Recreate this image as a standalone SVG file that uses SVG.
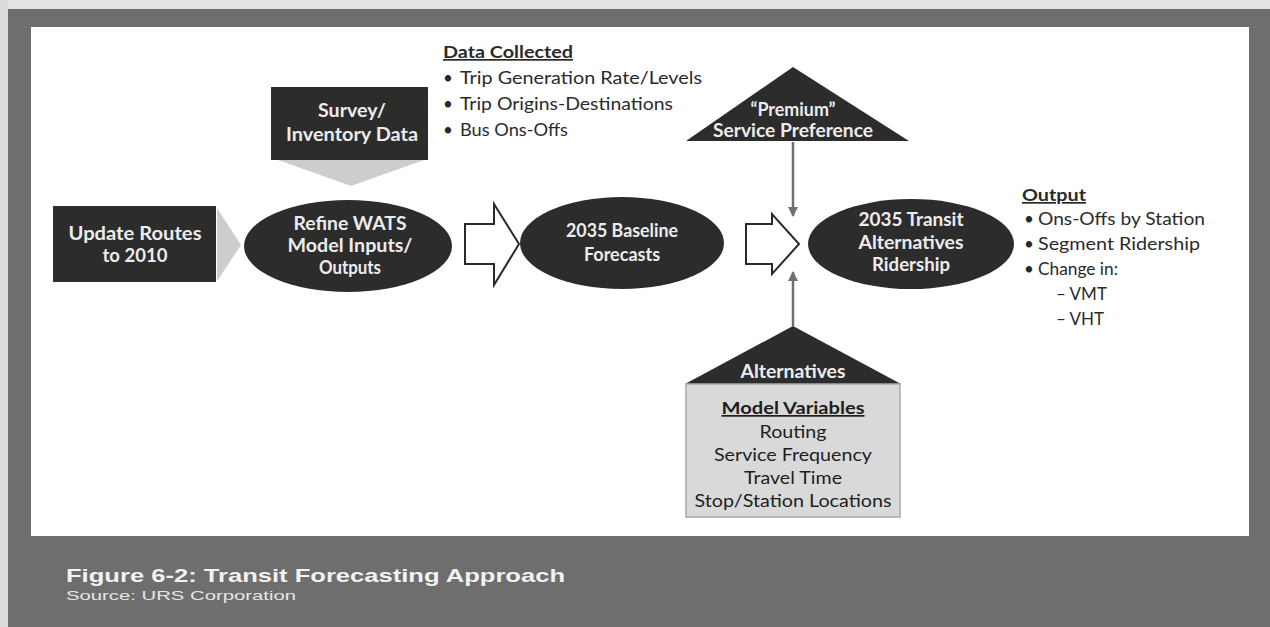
<svg xmlns="http://www.w3.org/2000/svg" width="1270" height="627" viewBox="0 0 1270 627">
<defs>
<style>
.frame{fill:#6e6e6e}
.panel{fill:#ffffff}
.node{fill:#2c2c2c}
.nt{font-family:Lato,"Open Sans","Liberation Sans",sans-serif;font-weight:bold;font-size:18px;fill:#ececec;text-anchor:middle}
.lt{font-family:Lato,"Open Sans","Liberation Sans",sans-serif;font-size:17px;fill:#2a2a2a}
.lh{font-family:Lato,"Open Sans","Liberation Sans",sans-serif;font-size:17px;font-weight:bold;fill:#2a2a2a;text-decoration:underline}
.bt{font-family:Lato,"Open Sans","Liberation Sans",sans-serif;font-size:17px;fill:#1e1e1e;text-anchor:middle}
.cap{font-family:"Liberation Sans",Arial,sans-serif;font-weight:bold;font-size:19px;fill:#f2f2f2}
.src{font-family:"Liberation Sans",Arial,sans-serif;font-size:13.5px;fill:#e6e6e6}
.hollow{fill:#ffffff;stroke:#2a2a2a;stroke-width:2;stroke-linejoin:miter}
.chev{fill:#cdcdcd}
.conn{stroke:#707070;stroke-width:2.5;fill:none}
</style>
<marker id="ah" viewBox="0 0 10 10" refX="9" refY="5" markerWidth="4" markerHeight="4" orient="auto-start-reverse">
<path d="M0,0 L10,5 L0,10 Z" fill="#707070"/>
</marker>
</defs>

<g id="background">
<rect class="frame" x="0" y="0" width="1270" height="627"/>
<rect x="0" y="0" width="1270" height="9" fill="#e4e4e4"/>
<rect x="0" y="0" width="8" height="627" fill="#dcdcdc"/>
<rect class="panel" x="31" y="27" width="1218" height="509"/>
</g>

<g id="caption">
<text class="cap" x="66" y="582" textLength="499" lengthAdjust="spacingAndGlyphs">Figure 6-2: Transit Forecasting Approach</text>
<text class="src" x="66" y="600" textLength="230" lengthAdjust="spacingAndGlyphs">Source: URS Corporation</text>
</g>

<g id="connectors">
<polygon class="chev" points="217,208 241,245 217,281"/>
<polygon class="chev" points="278,160 424,160 351,186"/>
<polygon class="hollow" points="465,224 494,224 494,204 519,244 494,285 494,264 465,264"/>
<polygon class="hollow" points="746,224 772,224 772,214 799,244 772,274 772,264 746,264"/>
<line class="conn" x1="793" y1="142" x2="793" y2="216" marker-end="url(#ah)"/>
<line class="conn" x1="793" y1="326" x2="793" y2="272" marker-end="url(#ah)"/>
</g>

<g id="update-routes">
<rect class="node" x="53" y="206" width="163" height="76"/>
<text class="nt" x="135" y="240" textLength="133" lengthAdjust="spacingAndGlyphs">Update Routes</text>
<text class="nt" x="135" y="262" textLength="65" lengthAdjust="spacingAndGlyphs">to 2010</text>
</g>

<g id="survey">
<rect class="node" x="271" y="87" width="157" height="73"/>
<text class="nt" x="352" y="117" textLength="68" lengthAdjust="spacingAndGlyphs">Survey/</text>
<text class="nt" x="352" y="141" textLength="132" lengthAdjust="spacingAndGlyphs">Inventory Data</text>
</g>

<g id="data-collected">
<text class="lh" x="443" y="58" textLength="130" lengthAdjust="spacingAndGlyphs">Data Collected</text>
<text class="lt" x="443" y="84">•</text>
<text class="lt" x="460" y="84" textLength="242" lengthAdjust="spacingAndGlyphs">Trip Generation Rate/Levels</text>
<text class="lt" x="443" y="110">•</text>
<text class="lt" x="460" y="110" textLength="213" lengthAdjust="spacingAndGlyphs">Trip Origins-Destinations</text>
<text class="lt" x="443" y="136">•</text>
<text class="lt" x="460" y="136" textLength="108" lengthAdjust="spacingAndGlyphs">Bus Ons-Offs</text>
</g>

<g id="refine">
<ellipse class="node" cx="348" cy="246" rx="104" ry="46"/>
<text class="nt" x="350" y="230" textLength="113" lengthAdjust="spacingAndGlyphs">Refine WATS</text>
<text class="nt" x="350" y="252" textLength="125" lengthAdjust="spacingAndGlyphs">Model Inputs/</text>
<text class="nt" x="350" y="274" textLength="62" lengthAdjust="spacingAndGlyphs">Outputs</text>
</g>

<g id="baseline">
<ellipse class="node" cx="622" cy="243" rx="102" ry="46"/>
<text class="nt" x="622" y="237" textLength="112" lengthAdjust="spacingAndGlyphs">2035 Baseline</text>
<text class="nt" x="622" y="261">Forecasts</text>
</g>

<g id="premium">
<polygon class="node" points="793,67 686,141 909,141"/>
<text class="nt" x="793" y="116" textLength="85" lengthAdjust="spacingAndGlyphs">“Premium”</text>
<text class="nt" x="793" y="137" textLength="160" lengthAdjust="spacingAndGlyphs">Service Preference</text>
</g>

<g id="transit">
<ellipse class="node" cx="911" cy="244" rx="103" ry="45"/>
<text class="nt" x="911" y="226" textLength="105" lengthAdjust="spacingAndGlyphs">2035 Transit</text>
<text class="nt" x="911" y="249" textLength="105" lengthAdjust="spacingAndGlyphs">Alternatives</text>
<text class="nt" x="911" y="271" textLength="78" lengthAdjust="spacingAndGlyphs">Ridership</text>
</g>

<g id="output">
<text class="lh" x="1022" y="201" textLength="64" lengthAdjust="spacingAndGlyphs">Output</text>
<text class="lt" x="1024" y="225">•</text>
<text class="lt" x="1038" y="225" textLength="167" lengthAdjust="spacingAndGlyphs">Ons-Offs by Station</text>
<text class="lt" x="1024" y="250">•</text>
<text class="lt" x="1038" y="250" textLength="162" lengthAdjust="spacingAndGlyphs">Segment Ridership</text>
<text class="lt" x="1024" y="275">•</text>
<text class="lt" x="1038" y="275" textLength="80" lengthAdjust="spacingAndGlyphs">Change in:</text>
<text class="lt" x="1056" y="300">– VMT</text>
<text class="lt" x="1056" y="325">– VHT</text>
</g>

<g id="alternatives">
<polygon class="node" points="793,326 685,384 901,384"/>
<text class="nt" x="793" y="378" textLength="105" lengthAdjust="spacingAndGlyphs">Alternatives</text>
<rect x="686" y="384" width="214" height="133" fill="#d9d9d9" stroke="#a8a8a8" stroke-width="1.5"/>
<text class="bt" x="793" y="414" font-weight="bold" text-decoration="underline" textLength="143" lengthAdjust="spacingAndGlyphs">Model Variables</text>
<text class="bt" x="793" y="438" textLength="67" lengthAdjust="spacingAndGlyphs">Routing</text>
<text class="bt" x="793" y="461" textLength="158" lengthAdjust="spacingAndGlyphs">Service Frequency</text>
<text class="bt" x="793" y="484" textLength="98" lengthAdjust="spacingAndGlyphs">Travel Time</text>
<text class="bt" x="793" y="507" textLength="197" lengthAdjust="spacingAndGlyphs">Stop/Station Locations</text>
</g>
</svg>
